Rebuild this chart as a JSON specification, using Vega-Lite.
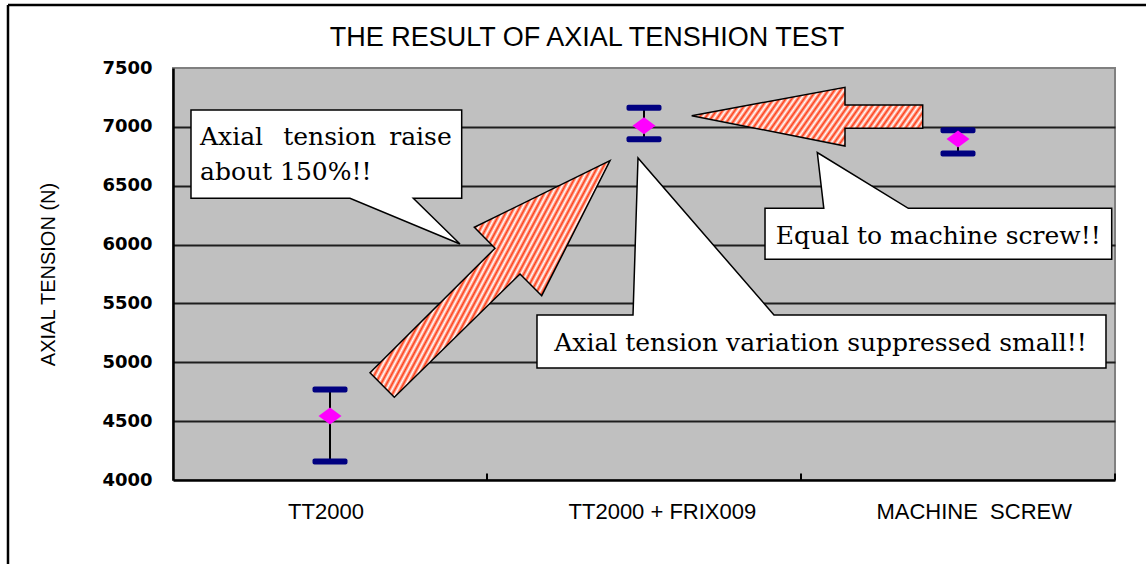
{
  "$schema": "https://vega.github.io/schema/vega-lite/v6.json",
  "width": 942,
  "height": 412,
  "autosize": {"type": "none"},
  "padding": {"left": 173, "top": 68, "right": 31, "bottom": 84},
  "background": "white",
  "title": {"text": "THE RESULT OF AXIAL TENSHION TEST", "font": "Liberation Sans", "fontSize": 27, "fontWeight": "normal", "color": "#000", "anchor": "middle", "dx": -57, "offset": -69, "baseline": "alphabetic"},
  "config": {
    "view": {"fill": "#c0c0c0", "stroke": "#808080", "strokeWidth": 2}
  },
  "datasets": {
    "frame": [
      {"x": -0.5255, "x2": 3.25, "y": 8035, "y2": 8035},
      {"x": -0.5255, "x2": -0.5255, "y": 3200, "y2": 8035}
    ],
    "xticks": [
      {"x": 1, "y": 4000, "y2": 4055},
      {"x": 2, "y": 4000, "y2": 4055},
      {"x": 3, "y": 4000, "y2": 4055}
    ],
    "callouts": [
      {"shape": "c1", "i": 0, "x": 0.0573, "y": 7143},
      {"shape": "c1", "i": 1, "x": 0.9194, "y": 7143},
      {"shape": "c1", "i": 2, "x": 0.9194, "y": 6393},
      {"shape": "c1", "i": 3, "x": 0.7653, "y": 6393},
      {"shape": "c1", "i": 4, "x": 0.9140, "y": 6005},
      {"shape": "c1", "i": 5, "x": 0.5637, "y": 6393},
      {"shape": "c1", "i": 6, "x": 0.0573, "y": 6393},
      {"shape": "c2", "i": 0, "x": 1.1592, "y": 5402},
      {"shape": "c2", "i": 1, "x": 1.4650, "y": 5402},
      {"shape": "c2", "i": 2, "x": 1.4809, "y": 6735},
      {"shape": "c2", "i": 3, "x": 1.9140, "y": 5402},
      {"shape": "c2", "i": 4, "x": 2.9713, "y": 5402},
      {"shape": "c2", "i": 5, "x": 2.9713, "y": 4951.5},
      {"shape": "c2", "i": 6, "x": 1.1592, "y": 4951.5},
      {"shape": "c3", "i": 0, "x": 1.8854, "y": 6308},
      {"shape": "c3", "i": 1, "x": 2.0726, "y": 6308},
      {"shape": "c3", "i": 2, "x": 2.0519, "y": 6782},
      {"shape": "c3", "i": 3, "x": 2.3417, "y": 6308},
      {"shape": "c3", "i": 4, "x": 2.9895, "y": 6308},
      {"shape": "c3", "i": 5, "x": 2.9895, "y": 5875},
      {"shape": "c3", "i": 6, "x": 1.8854, "y": 5875}
    ],
    "arrow1": [
      {"i": 0, "x": 0.6274, "y": 4911.5},
      {"i": 1, "x": 0.7048, "y": 4702.5},
      {"i": 2, "x": 1.1051, "y": 5750},
      {"i": 3, "x": 1.1742, "y": 5565.6},
      {"i": 4, "x": 1.3917, "y": 6712.5},
      {"i": 5, "x": 0.9596, "y": 6146.7},
      {"i": 6, "x": 1.0255, "y": 5968.3}
    ],
    "arrow2": [
      {"i": 0, "x": 1.6519, "y": 7094.8},
      {"i": 1, "x": 2.1401, "y": 7336},
      {"i": 2, "x": 2.1401, "y": 7185.7},
      {"i": 3, "x": 2.3876, "y": 7185.7},
      {"i": 4, "x": 2.3876, "y": 6987.7},
      {"i": 5, "x": 2.1401, "y": 6987.7},
      {"i": 6, "x": 2.1401, "y": 6837.4}
    ],
    "stats": [
      {"cat": "TT2000", "x": 0.5, "y": 4544, "lo": 4157, "hi": 4769},
      {"cat": "TT2000 + FRIX009", "x": 1.5, "y": 7010, "lo": 6894, "hi": 7163},
      {"cat": "MACHINE SCREW", "x": 2.5, "y": 6897, "lo": 6774, "hi": 6971}
    ],
    "texts": [
      {"t": "Axial", "x": 0.0860, "y": 6846, "a": "left"},
      {"t": "tension", "x": 0.4990, "y": 6846, "a": "center"},
      {"t": "raise", "x": 0.8876, "y": 6846, "a": "right"},
      {"t": "about 150%!!", "x": 0.0860, "y": 6548.5, "a": "left"},
      {"t": "Axial tension variation suppressed small!!", "x": 2.0621, "y": 5096, "a": "center"},
      {"t": "Equal to machine screw!!", "x": 2.4373, "y": 6002, "a": "center"}
    ]
  },
  "encoding": {
    "x": {
      "field": "x", "type": "quantitative", "title": null,
      "scale": {"domain": [0, 3], "nice": false, "zero": false},
      "axis": {
        "values": [0.4857, 1.557, 2.55],
        "labelExpr": "datum.value < 1 ? 'TT2000' : datum.value < 2 ? 'TT2000 + FRIX009' : 'MACHINE\u00a0 SCREW'",
        "grid": false, "ticks": false,
        "domainColor": "#000", "domainWidth": 2.5,
        "labelFont": "Liberation Sans", "labelFontSize": 22, "labelColor": "#000", "labelLimit": 0,
        "labelPadding": 21, "labelBaseline": "top", "labelFlush": false, "labelOverlap": false
      }
    },
    "y": {
      "field": "y", "type": "quantitative", "title": "AXIAL TENSION (N)",
      "scale": {"domain": [4000, 7500], "nice": false, "zero": false},
      "axis": {
        "values": [4000, 4500, 5000, 5500, 6000, 6500, 7000, 7500],
        "format": "d",
        "grid": true, "gridColor": "#1e1e1e", "gridWidth": 1.8,
        "gridOpacity": {"condition": {"test": "datum.value == 4000 || datum.value == 7500", "value": 0}, "value": 1},
        "ticks": false,
        "domainColor": "#000", "domainWidth": 2.5,
        "labelFont": "DejaVu Sans", "labelFontSize": 18, "labelFontWeight": "bold", "labelColor": "#000",
        "labelPadding": 21, "labelFlush": false, "labelOverlap": false,
        "titleFont": "Liberation Sans", "titleFontSize": 20, "titleFontWeight": "normal", "titleColor": "#000",
        "titlePadding": 43
      }
    }
  },
  "layer": [
    {
      "data": {"name": "frame"},
      "mark": {"type": "rule", "color": "#000", "strokeWidth": 2.5},
      "encoding": {"x2": {"field": "x2"}, "y2": {"field": "y2"}}
    },
    {
      "data": {"name": "xticks"},
      "mark": {"type": "rule", "color": "#000", "strokeWidth": 2},
      "encoding": {"y2": {"field": "y2"}}
    },
    {
      "data": {"name": "callouts"},
      "mark": {"type": "line", "interpolate": "linear-closed", "fill": "#ffffff", "stroke": "#000", "strokeWidth": 1.5, "strokeJoin": "miter"},
      "encoding": {"detail": {"field": "shape"}, "order": {"field": "i", "type": "quantitative"}}
    },
    {
      "data": {"name": "arrow1"},
      "mark": {
        "type": "line", "interpolate": "linear-closed", "stroke": "#000", "strokeWidth": 1.5, "strokeJoin": "miter",
        "fill": {"gradient": "linear", "x1": 0.35, "y1": 0.1834, "x2": 0.81, "y2": 0.4244, "stops": [
          {"offset": 0, "color": "#ff3c14"}, {"offset": 0.02, "color": "#ffffff"},
          {"offset": 0.04, "color": "#ff3c14"}, {"offset": 0.06, "color": "#ffffff"},
          {"offset": 0.08, "color": "#ff3c14"}, {"offset": 0.1, "color": "#ffffff"},
          {"offset": 0.12, "color": "#ff3c14"}, {"offset": 0.14, "color": "#ffffff"},
          {"offset": 0.16, "color": "#ff3c14"}, {"offset": 0.18, "color": "#ffffff"},
          {"offset": 0.2, "color": "#ff3c14"}, {"offset": 0.22, "color": "#ffffff"},
          {"offset": 0.24, "color": "#ff3c14"}, {"offset": 0.26, "color": "#ffffff"},
          {"offset": 0.28, "color": "#ff3c14"}, {"offset": 0.3, "color": "#ffffff"},
          {"offset": 0.32, "color": "#ff3c14"}, {"offset": 0.34, "color": "#ffffff"},
          {"offset": 0.36, "color": "#ff3c14"}, {"offset": 0.38, "color": "#ffffff"},
          {"offset": 0.4, "color": "#ff3c14"}, {"offset": 0.42, "color": "#ffffff"},
          {"offset": 0.44, "color": "#ff3c14"}, {"offset": 0.46, "color": "#ffffff"},
          {"offset": 0.48, "color": "#ff3c14"}, {"offset": 0.5, "color": "#ffffff"},
          {"offset": 0.52, "color": "#ff3c14"}, {"offset": 0.54, "color": "#ffffff"},
          {"offset": 0.56, "color": "#ff3c14"}, {"offset": 0.58, "color": "#ffffff"},
          {"offset": 0.6, "color": "#ff3c14"}, {"offset": 0.62, "color": "#ffffff"},
          {"offset": 0.64, "color": "#ff3c14"}, {"offset": 0.66, "color": "#ffffff"},
          {"offset": 0.68, "color": "#ff3c14"}, {"offset": 0.7, "color": "#ffffff"},
          {"offset": 0.72, "color": "#ff3c14"}, {"offset": 0.74, "color": "#ffffff"},
          {"offset": 0.76, "color": "#ff3c14"}, {"offset": 0.78, "color": "#ffffff"},
          {"offset": 0.8, "color": "#ff3c14"}, {"offset": 0.82, "color": "#ffffff"},
          {"offset": 0.84, "color": "#ff3c14"}, {"offset": 0.86, "color": "#ffffff"},
          {"offset": 0.88, "color": "#ff3c14"}, {"offset": 0.9, "color": "#ffffff"},
          {"offset": 0.92, "color": "#ff3c14"}, {"offset": 0.94, "color": "#ffffff"},
          {"offset": 0.96, "color": "#ff3c14"}, {"offset": 0.98, "color": "#ffffff"},
          {"offset": 1, "color": "#ff3c14"}
        ]}
      },
      "encoding": {"order": {"field": "i", "type": "quantitative"}}
    },
    {
      "data": {"name": "arrow2"},
      "mark": {
        "type": "line", "interpolate": "linear-closed", "stroke": "#000", "strokeWidth": 1.5, "strokeJoin": "miter",
        "fill": {"gradient": "linear", "x1": 0.07, "y1": 0.0125, "x2": 1.35, "y2": 0.2403, "stops": [
          {"offset": 0, "color": "#ff3c14"}, {"offset": 0.01, "color": "#ffffff"},
          {"offset": 0.02, "color": "#ff3c14"}, {"offset": 0.03, "color": "#ffffff"},
          {"offset": 0.04, "color": "#ff3c14"}, {"offset": 0.05, "color": "#ffffff"},
          {"offset": 0.06, "color": "#ff3c14"}, {"offset": 0.07, "color": "#ffffff"},
          {"offset": 0.08, "color": "#ff3c14"}, {"offset": 0.09, "color": "#ffffff"},
          {"offset": 0.1, "color": "#ff3c14"}, {"offset": 0.11, "color": "#ffffff"},
          {"offset": 0.12, "color": "#ff3c14"}, {"offset": 0.13, "color": "#ffffff"},
          {"offset": 0.14, "color": "#ff3c14"}, {"offset": 0.15, "color": "#ffffff"},
          {"offset": 0.16, "color": "#ff3c14"}, {"offset": 0.17, "color": "#ffffff"},
          {"offset": 0.18, "color": "#ff3c14"}, {"offset": 0.19, "color": "#ffffff"},
          {"offset": 0.2, "color": "#ff3c14"}, {"offset": 0.21, "color": "#ffffff"},
          {"offset": 0.22, "color": "#ff3c14"}, {"offset": 0.23, "color": "#ffffff"},
          {"offset": 0.24, "color": "#ff3c14"}, {"offset": 0.25, "color": "#ffffff"},
          {"offset": 0.26, "color": "#ff3c14"}, {"offset": 0.27, "color": "#ffffff"},
          {"offset": 0.28, "color": "#ff3c14"}, {"offset": 0.29, "color": "#ffffff"},
          {"offset": 0.3, "color": "#ff3c14"}, {"offset": 0.31, "color": "#ffffff"},
          {"offset": 0.32, "color": "#ff3c14"}, {"offset": 0.33, "color": "#ffffff"},
          {"offset": 0.34, "color": "#ff3c14"}, {"offset": 0.35, "color": "#ffffff"},
          {"offset": 0.36, "color": "#ff3c14"}, {"offset": 0.37, "color": "#ffffff"},
          {"offset": 0.38, "color": "#ff3c14"}, {"offset": 0.39, "color": "#ffffff"},
          {"offset": 0.4, "color": "#ff3c14"}, {"offset": 0.41, "color": "#ffffff"},
          {"offset": 0.42, "color": "#ff3c14"}, {"offset": 0.43, "color": "#ffffff"},
          {"offset": 0.44, "color": "#ff3c14"}, {"offset": 0.45, "color": "#ffffff"},
          {"offset": 0.46, "color": "#ff3c14"}, {"offset": 0.47, "color": "#ffffff"},
          {"offset": 0.48, "color": "#ff3c14"}, {"offset": 0.49, "color": "#ffffff"},
          {"offset": 0.5, "color": "#ff3c14"}, {"offset": 0.51, "color": "#ffffff"},
          {"offset": 0.52, "color": "#ff3c14"}, {"offset": 0.53, "color": "#ffffff"},
          {"offset": 0.54, "color": "#ff3c14"}, {"offset": 0.55, "color": "#ffffff"},
          {"offset": 0.56, "color": "#ff3c14"}, {"offset": 0.57, "color": "#ffffff"},
          {"offset": 0.58, "color": "#ff3c14"}, {"offset": 0.59, "color": "#ffffff"},
          {"offset": 0.6, "color": "#ff3c14"}, {"offset": 0.61, "color": "#ffffff"},
          {"offset": 0.62, "color": "#ff3c14"}, {"offset": 0.63, "color": "#ffffff"},
          {"offset": 0.64, "color": "#ff3c14"}, {"offset": 0.65, "color": "#ffffff"},
          {"offset": 0.66, "color": "#ff3c14"}, {"offset": 0.67, "color": "#ffffff"},
          {"offset": 0.68, "color": "#ff3c14"}, {"offset": 0.69, "color": "#ffffff"},
          {"offset": 0.7, "color": "#ff3c14"}, {"offset": 0.71, "color": "#ffffff"},
          {"offset": 0.72, "color": "#ff3c14"}, {"offset": 0.73, "color": "#ffffff"},
          {"offset": 0.74, "color": "#ff3c14"}, {"offset": 0.75, "color": "#ffffff"},
          {"offset": 0.76, "color": "#ff3c14"}, {"offset": 0.77, "color": "#ffffff"},
          {"offset": 0.78, "color": "#ff3c14"}, {"offset": 0.79, "color": "#ffffff"},
          {"offset": 0.8, "color": "#ff3c14"}, {"offset": 0.81, "color": "#ffffff"},
          {"offset": 0.82, "color": "#ff3c14"}, {"offset": 0.83, "color": "#ffffff"},
          {"offset": 0.84, "color": "#ff3c14"}, {"offset": 0.85, "color": "#ffffff"},
          {"offset": 0.86, "color": "#ff3c14"}, {"offset": 0.87, "color": "#ffffff"},
          {"offset": 0.88, "color": "#ff3c14"}, {"offset": 0.89, "color": "#ffffff"},
          {"offset": 0.9, "color": "#ff3c14"}, {"offset": 0.91, "color": "#ffffff"},
          {"offset": 0.92, "color": "#ff3c14"}, {"offset": 0.93, "color": "#ffffff"},
          {"offset": 0.94, "color": "#ff3c14"}, {"offset": 0.95, "color": "#ffffff"},
          {"offset": 0.96, "color": "#ff3c14"}, {"offset": 0.97, "color": "#ffffff"},
          {"offset": 0.98, "color": "#ff3c14"}, {"offset": 0.99, "color": "#ffffff"},
          {"offset": 1, "color": "#ff3c14"}
        ]}
      },
      "encoding": {"order": {"field": "i", "type": "quantitative"}}
    },
    {
      "data": {"name": "stats"},
      "mark": {"type": "rule", "color": "#000", "strokeWidth": 2},
      "encoding": {
        "y": {"field": "lo", "type": "quantitative", "title": "AXIAL TENSION (N)", "scale": {"domain": [4000, 7500], "nice": false, "zero": false}},
        "y2": {"field": "hi"}
      }
    },
    {
      "data": {"name": "stats"},
      "mark": {"type": "tick", "orient": "horizontal", "size": 35, "thickness": 6, "color": "#000080", "opacity": 1, "cornerRadius": 2},
      "encoding": {
        "y": {"field": "lo", "type": "quantitative", "title": "AXIAL TENSION (N)", "scale": {"domain": [4000, 7500], "nice": false, "zero": false}}
      }
    },
    {
      "data": {"name": "stats"},
      "mark": {"type": "tick", "orient": "horizontal", "size": 35, "thickness": 6, "color": "#000080", "opacity": 1, "cornerRadius": 2},
      "encoding": {
        "y": {"field": "hi", "type": "quantitative", "title": "AXIAL TENSION (N)", "scale": {"domain": [4000, 7500], "nice": false, "zero": false}}
      }
    },
    {
      "data": {"name": "stats"},
      "mark": {"type": "point", "shape": "M-1,0L0,-0.74L1,0L0,0.74Z", "size": 529, "filled": true, "fill": "#ff00ff", "opacity": 1, "strokeWidth": 0}
    },
    {
      "data": {"name": "texts"},
      "transform": [{"filter": "datum.a == 'left'"}],
      "mark": {"type": "text", "align": "left", "baseline": "alphabetic", "font": "DejaVu Serif", "fontSize": 25, "color": "#000"},
      "encoding": {"text": {"field": "t"}}
    },
    {
      "data": {"name": "texts"},
      "transform": [{"filter": "datum.a == 'center'"}],
      "mark": {"type": "text", "align": "center", "baseline": "alphabetic", "font": "DejaVu Serif", "fontSize": 25, "color": "#000"},
      "encoding": {"text": {"field": "t"}}
    },
    {
      "data": {"name": "texts"},
      "transform": [{"filter": "datum.a == 'right'"}],
      "mark": {"type": "text", "align": "right", "baseline": "alphabetic", "font": "DejaVu Serif", "fontSize": 25, "color": "#000"},
      "encoding": {"text": {"field": "t"}}
    }
  ]
}
